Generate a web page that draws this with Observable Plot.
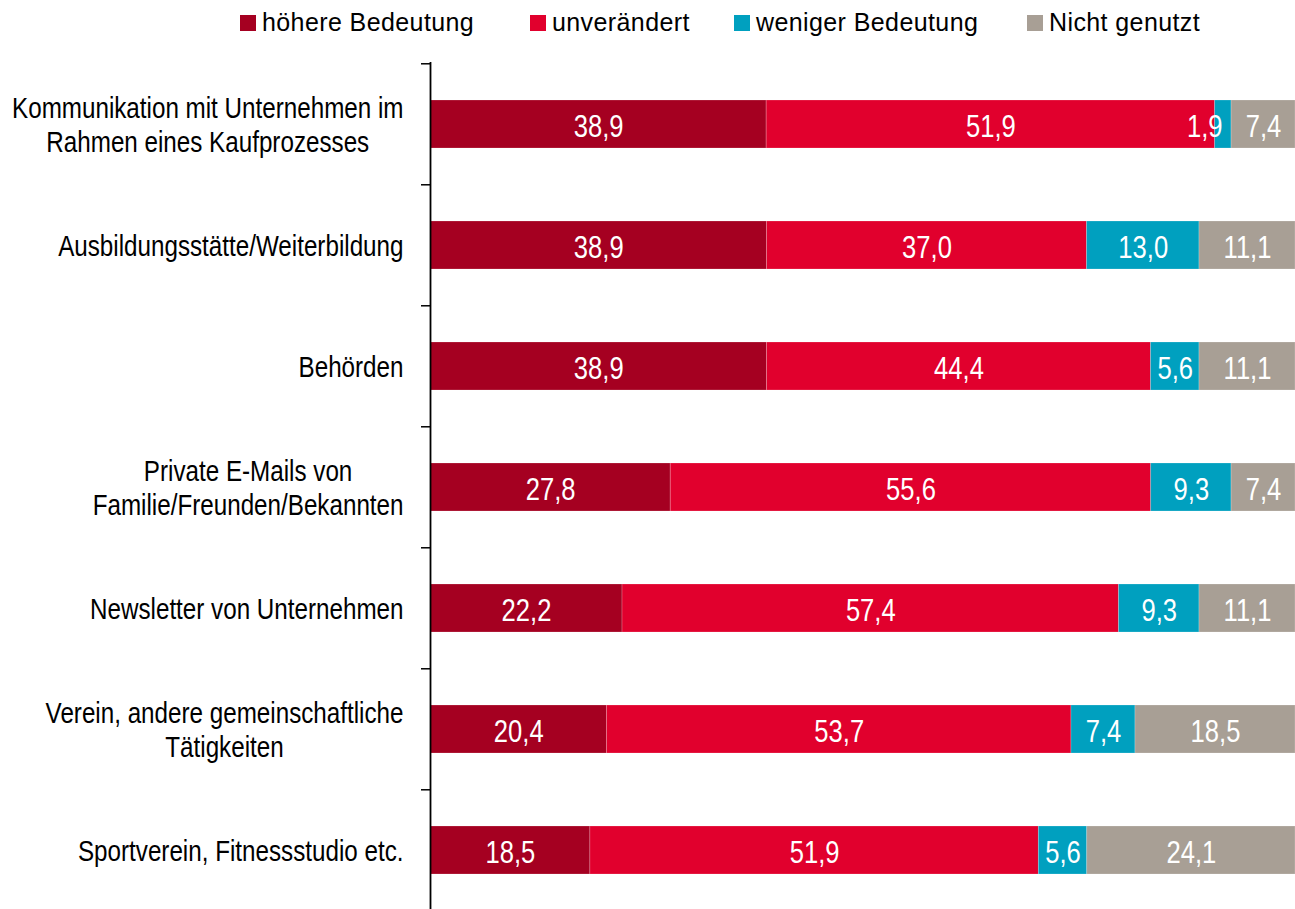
<!DOCTYPE html>
<html><head><meta charset="utf-8">
<script src="https://cdn.jsdelivr.net/npm/d3@7"></script>
<script src="https://cdn.jsdelivr.net/npm/@observablehq/plot@0.6"></script>
<style>
html,body{margin:0;padding:0;background:#fff;overflow:hidden;width:1295px;height:909px}
#wrap{position:relative;width:1295px;height:909px}
#legend{position:absolute;top:0;left:0;width:1295px;height:50px;font-family:"Liberation Sans",Arial,sans-serif;font-size:25px;letter-spacing:0.4px;color:#000}
.item{position:absolute;top:10px;height:25px;line-height:25px;display:flex;align-items:center;white-space:nowrap}
.sw{width:16px;height:16px;margin-right:6px;display:inline-block}
#chart{position:absolute;top:0;left:0}
</style></head><body><div id="wrap"><div id="chart"></div><div id="legend"></div></div>
<script>
const categories = [
  "Kommunikation mit Unternehmen im\nRahmen eines Kaufprozesses",
  "Ausbildungsstätte/Weiterbildung",
  "Behörden",
  "Private E-Mails von\nFamilie/Freunden/Bekannten",
  "Newsletter von Unternehmen",
  "Verein, andere gemeinschaftliche\nTätigkeiten",
  "Sportverein, Fitnessstudio etc."
];
const series = ["höhere Bedeutung", "unverändert", "weniger Bedeutung", "Nicht genutzt"];
const hoehereBedeutung = [38.9, 38.9, 38.9, 27.8, 22.2, 20.4, 18.5];
const unveraendert = [51.9, 37.0, 44.4, 55.6, 57.4, 53.7, 51.9];
const wenigerBedeutung = [1.9, 13.0, 5.6, 9.3, 9.3, 7.4, 5.6];
const nichtGenutzt = [7.4, 11.1, 11.1, 7.4, 11.1, 18.5, 24.1];
const colors = ["#A50021", "#E1002D", "#00A0BF", "#A89F95"];
const legendLeft = [240, 530, 734, 1027];

const valuesBySeries = [hoehereBedeutung, unveraendert, wenigerBedeutung, nichtGenutzt];
const rows = [];
categories.forEach((c, i) => series.forEach((s, j) => rows.push({cat: c, series: s, value: valuesBySeries[j][i]})));
const fmt = v => v.toFixed(1).replace(".", ",");

const W = 1295, H = 912, mTop = 62, mLeft = 430;
const step = (H - mTop) / categories.length;
const font = '"Liberation Sans",Arial,sans-serif';
const stackOpts = {x: "value", y: "cat", z: "series", order: series, offset: "normalize"};

const plot = Plot.plot({
  width: W, height: H,
  marginTop: mTop, marginBottom: 0, marginLeft: mLeft, marginRight: 0,
  style: {fontFamily: font, background: "#fff", color: "#000"},
  x: {domain: [0, 1], axis: null},
  y: {domain: categories, paddingInner: 0.6, paddingOuter: 0.3, label: null},
  color: {domain: series, range: colors},
  marks: [
    Plot.barX(rows, Plot.stackX({...stackOpts, fill: "series", stroke: "#fff", strokeOpacity: 0.25, strokeWidth: 0.8})),
    Plot.text(rows, Plot.stackX({...stackOpts, text: d => d.value >= 3 ? fmt(d.value) : "", fill: "#fff", fontSize: 32, dy: 2})),
    Plot.text(rows, Plot.stackX2({...stackOpts, text: d => d.value < 3 ? fmt(d.value) : "", fill: "#fff", fontSize: 32, dy: 2, dx: -9, textAnchor: "end"})),
    Plot.axisY({tickSize: 0, tickPadding: 27, fontSize: 29, lineHeight: 1.17, fill: "#000"}),
    Plot.axisY({tickSize: 9, tickFormat: () => "", dy: -step / 2, stroke: "#000", strokeWidth: 1.5}),
    Plot.ruleX([0], {stroke: "#000", strokeWidth: 1.8})
  ]
});
document.getElementById("chart").appendChild(plot);

// condensed look (Arial Narrow-like) by horizontal scaling around each text's anchor
function condense(sel, sx) {
  plot.querySelectorAll(sel).forEach(t => {
    const tr = t.getAttribute("transform") || "";
    t.setAttribute("transform", tr + ` scale(${sx},1)`);
  });
}
// center multi-line y labels relative to each other, widest line right-aligned
plot.querySelectorAll('g[aria-label="y-axis tick label"] text').forEach(t => {
  const spans = t.querySelectorAll("tspan");
  if (spans.length > 1) {
    const ws = Array.from(spans).map(s => s.getComputedTextLength());
    const M = Math.max(...ws);
    spans.forEach((s, k) => s.setAttribute("x", -(M - ws[k]) / 2));
  }
});
condense('g[aria-label="y-axis tick label"] text', 0.835);
condense('g[aria-label="text"] text', 0.8);

const legend = document.getElementById("legend");
series.forEach((s, j) => {
  const it = document.createElement("div");
  it.className = "item";
  it.style.left = legendLeft[j] + "px";
  it.innerHTML = `<span class="sw" style="background:${colors[j]}"></span><span>${s}</span>`;
  legend.appendChild(it);
});
</script>
</body></html>
